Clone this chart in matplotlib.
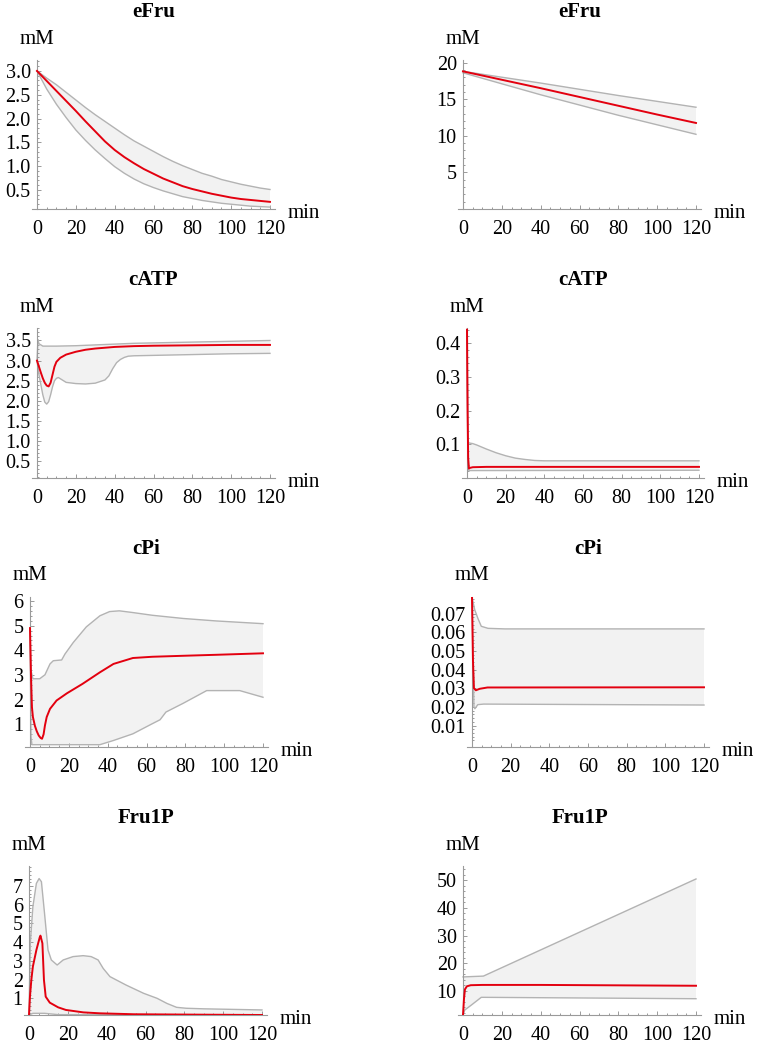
import numpy as np
import matplotlib
matplotlib.use("Agg")
import matplotlib.pyplot as plt
from matplotlib.ticker import FixedLocator, MultipleLocator, FormatStrFormatter

plt.rcParams['font.family'] = ['Liberation Serif', 'DejaVu Serif']

# ---- data ----
# eFru, left
efru1_t = [0, 5, 10, 15, 20, 25, 30, 35, 40, 45, 50, 55, 60, 65, 70, 75, 80, 85, 90, 95,
           100, 105, 110, 115, 120]
efru1_mean = [3.0, 2.79, 2.58, 2.37, 2.16, 1.94, 1.73, 1.52, 1.34, 1.19, 1.06, 0.94, 0.84,
              0.74, 0.66, 0.58, 0.52, 0.47, 0.42, 0.38, 0.34, 0.31, 0.29, 0.27, 0.25]
efru1_up = [3.0, 2.85, 2.71, 2.55, 2.39, 2.23, 2.08, 1.94, 1.8, 1.66, 1.53, 1.42, 1.31, 1.2,
            1.1, 1.01, 0.93, 0.85, 0.79, 0.72, 0.67, 0.62, 0.58, 0.54, 0.51]
efru1_lo = [3.0, 2.62, 2.3, 2.02, 1.76, 1.54, 1.34, 1.16, 0.99, 0.85, 0.73, 0.63, 0.55, 0.48,
            0.42, 0.36, 0.32, 0.28, 0.25, 0.22, 0.2, 0.18, 0.16, 0.15, 0.14]

# eFru, right
efru2_t = [0, 20, 40, 60, 80, 100, 120]
efru2_mean = [18.8, 17.65, 16.5, 15.3, 14.1, 12.9, 11.75]
efru2_up = [18.8, 18.0, 17.2, 16.35, 15.5, 14.7, 13.9]
efru2_lo = [18.6, 17.1, 15.6, 14.2, 12.8, 11.5, 10.2]

# cATP, left
catp1_mean_t = [0, 1, 2, 3, 4, 5, 6, 7, 8, 9, 10, 12, 15, 20, 25, 30, 40, 50, 60, 80, 100, 120]
catp1_mean = [3.0, 2.85, 2.7, 2.56, 2.45, 2.38, 2.36, 2.45, 2.65, 2.85, 2.97, 3.07, 3.15, 3.22,
              3.27, 3.3, 3.34, 3.36, 3.37, 3.38, 3.39, 3.39]
catp1_up_t = [0, 0.5, 1, 3, 10, 20, 30, 40, 50, 60, 80, 100, 120]
catp1_up = [3.0, 3.52, 3.42, 3.36, 3.36, 3.37, 3.39, 3.41, 3.43, 3.44, 3.46, 3.48, 3.5]
catp1_lo_t = [0, 1, 2, 3, 4, 5, 6, 7, 8, 9, 10, 11, 13, 15, 20, 25, 30, 35, 37, 39, 41, 43,
              45, 47, 50, 60, 80, 100, 120]
catp1_lo = [3.0, 2.65, 2.4, 2.15, 1.97, 1.92, 1.98, 2.15, 2.35, 2.5, 2.56, 2.58, 2.52, 2.46,
            2.43, 2.42, 2.44, 2.52, 2.62, 2.8, 2.95, 3.03, 3.08, 3.11, 3.12, 3.13, 3.15, 3.17, 3.18]

# cATP, right
catp2_mean_t = [0, 0.3, 0.6, 1, 1.5, 3, 10, 120]
catp2_mean = [0.44, 0.2, 0.06, 0.028, 0.03, 0.032, 0.033, 0.033]
catp2_up_t = [0, 0.5, 1, 3, 5, 10, 15, 20, 25, 30, 35, 40, 120]
catp2_up = [0.44, 0.11, 0.104, 0.102, 0.098, 0.086, 0.075, 0.066, 0.059, 0.055, 0.052, 0.051, 0.051]
catp2_lo_t = [0, 0.5, 1, 120]
catp2_lo = [0.44, 0.03, 0.022, 0.023]

# cPi, left
cpi1_mean_t = [0, 0.5, 1, 1.5, 2.5, 3.5, 4.5, 5.5, 6.2, 7, 7.7, 8.6, 10.3, 13.7, 19, 27, 36,
               43, 53, 63, 79, 96, 120]
cpi1_mean = [4.9, 3.0, 1.7, 1.3, 0.95, 0.72, 0.55, 0.45, 0.42, 0.6, 0.96, 1.3, 1.63, 1.97,
             2.26, 2.64, 3.11, 3.45, 3.69, 3.74, 3.78, 3.82, 3.88]
cpi1_up_t = [0, 0.5, 1.5, 5, 7.7, 10.3, 12, 16.3, 18, 22.3, 29, 36, 41, 46, 53, 63, 79, 96, 120]
cpi1_up = [4.9, 3.2, 2.85, 2.85, 3.01, 3.45, 3.58, 3.61, 3.85, 4.32, 4.95, 5.4, 5.57, 5.6,
           5.53, 5.42, 5.29, 5.19, 5.08]
cpi1_lo_t = [0, 0.5, 1, 36, 43, 53, 63, 67, 70, 79, 91, 108, 120]
cpi1_lo = [4.9, 0.5, 0.18, 0.18, 0.35, 0.62, 1.03, 1.19, 1.5, 1.86, 2.37, 2.37, 2.1]

# cPi, right
cpi2_mean_t = [0, 0.5, 1, 2, 4, 8, 120]
cpi2_mean = [0.0789, 0.045, 0.030, 0.0289, 0.0297, 0.0304, 0.0305]
cpi2_up_t = [0, 1.4, 3.1, 4.8, 8.3, 17, 120]
cpi2_up = [0.0789, 0.0721, 0.0673, 0.0632, 0.0621, 0.0618, 0.0618]
cpi2_lo_t = [0, 1, 1.5, 3, 6, 120]
cpi2_lo = [0.0789, 0.02, 0.019, 0.0212, 0.0215, 0.021]

# Fru1P, left
fru1p1_mean_t = [0, 0.5, 1.2, 2, 3.8, 5.5, 5.9, 6.9, 7.7, 8.6, 10.7, 15, 19, 28, 36.5, 54, 85, 120]
fru1p1_mean = [0.11, 1.1, 1.98, 2.7, 3.58, 4.25, 4.35, 3.94, 1.98, 1.09, 0.77, 0.52, 0.38,
               0.25, 0.2, 0.15, 0.13, 0.11]
fru1p1_up_t = [0, 0.7, 2, 3.8, 5.2, 6.4, 8, 9.8, 11.5, 14.5, 17.6, 22.7, 27.9, 32, 35.6, 38.2,
               41.7, 50, 59, 66, 71, 76, 81, 90, 120]
fru1p1_up = [0.11, 4.0, 5.9, 7.14, 7.4, 7.23, 5.54, 3.58, 3.05, 2.78, 3.05, 3.23, 3.28, 3.23,
             3.05, 2.6, 2.16, 1.71, 1.27, 1.0, 0.73, 0.52, 0.47, 0.44, 0.38]
fru1p1_lo_t = [0, 2, 8, 15, 120]
fru1p1_lo = [0.11, 0.2, 0.2, 0.13, 0.11]

# Fru1P, right
fru1p2_mean_t = [0, 0.5, 1, 2, 4, 10, 40, 120]
fru1p2_mean = [1.2, 7.0, 10.5, 11.6, 12.0, 12.1, 12.1, 11.8]
fru1p2_up_t = [0, 10.5, 120]
fru1p2_up = [15.0, 15.3, 50.5]
fru1p2_lo_t = [0, 0.9, 4.3, 9.4, 11, 120]
fru1p2_lo = [1.2, 3.0, 4.8, 7.6, 7.6, 7.1]

titles = ["eFru", "eFru", "cATP", "cATP", "cPi", "cPi", "Fru1P", "Fru1P"]

panels = [
    (efru1_t, efru1_mean, efru1_t, efru1_up, efru1_t, efru1_lo),
    (efru2_t, efru2_mean, efru2_t, efru2_up, efru2_t, efru2_lo),
    (catp1_mean_t, catp1_mean, catp1_up_t, catp1_up, catp1_lo_t, catp1_lo),
    (catp2_mean_t, catp2_mean, catp2_up_t, catp2_up, catp2_lo_t, catp2_lo),
    (cpi1_mean_t, cpi1_mean, cpi1_up_t, cpi1_up, cpi1_lo_t, cpi1_lo),
    (cpi2_mean_t, cpi2_mean, cpi2_up_t, cpi2_up, cpi2_lo_t, cpi2_lo),
    (fru1p1_mean_t, fru1p1_mean, fru1p1_up_t, fru1p1_up, fru1p1_lo_t, fru1p1_lo),
    (fru1p2_mean_t, fru1p2_mean, fru1p2_up_t, fru1p2_up, fru1p2_lo_t, fru1p2_lo),
]

# y ticks: (major ticks, minor step, format, ylim)
yticks = [
    ([0.5, 1.0, 1.5, 2.0, 2.5, 3.0], 0.1, '%.1f', (0.10, 3.23)),
    ([5, 10, 15, 20], 1, '%d', (0, 20.35)),
    ([0.5, 1.0, 1.5, 2.0, 2.5, 3.0, 3.5], 0.1, '%.1f', (0.085, 3.81)),
    ([0.1, 0.2, 0.3, 0.4], 0.02, '%.1f', (0.0, 0.445)),
    ([1, 2, 3, 4, 5, 6], 0.2, '%d', (0.086, 6.16)),
    ([0.01, 0.02, 0.03, 0.04, 0.05, 0.06, 0.07], 0.002, '%.2f', (-0.0015, 0.0789)),
    ([1, 2, 3, 4, 5, 6, 7], 0.2, '%d', (0.11, 8.07)),
    ([10, 20, 30, 40, 50], 2, '%d', (1.2, 55.2)),
]

# pixel layout: x of t=0, x of t=120, y of x-axis, y of top of y-axis
layout = [
    (37, 270, 209, 60), (463, 696, 209, 60),
    (37, 270, 478, 328), (467, 699, 478, 328),
    (30, 263, 747, 597), (472, 704, 747, 597),
    (29, 262, 1015, 866), (463, 696, 1015, 866),
]

W, H = 762, 1045
fig = plt.figure(figsize=(W / 100, H / 100), dpi=100)

axcol = '#9a9a9a'
bandcol = '#b3b3b3'
fillcol = '#f2f2f2'
redcol = '#e3000f'
fs_tick = 14.5
fs = 15

for i in range(8):
    x0, x120, yb, yt = layout[i]
    left, right = x0 - 5, x120 + 5
    ax = fig.add_axes([left / W, 1 - yb / H, (right - left) / W, (yb - yt) / H])
    ppm = (x120 - x0) / 120.0
    ax.set_xlim(-5 / ppm, 120 + 5 / ppm)
    major, minstep, fmt, ylim = yticks[i]
    ax.set_ylim(*ylim)

    tm, mean, tu, up, tl, lo = panels[i]
    ax.fill(np.concatenate([tu, tl[::-1]]), np.concatenate([up, lo[::-1]]),
            color=fillcol, lw=0, zorder=1)
    ax.plot(tu, up, color=bandcol, lw=1.0, zorder=2)
    ax.plot(tl, lo, color=bandcol, lw=1.0, zorder=2)
    ax.plot(tm, mean, color=redcol, lw=1.4, zorder=3, solid_joinstyle='round')

    for s in ['top', 'right']:
        ax.spines[s].set_visible(False)
    ax.spines['left'].set_position(('data', 0))
    for s in ['left', 'bottom']:
        ax.spines[s].set_color(axcol)
        ax.spines[s].set_linewidth(0.8)

    ax.xaxis.set_major_locator(FixedLocator([0, 20, 40, 60, 80, 100, 120]))
    ax.xaxis.set_minor_locator(MultipleLocator(5))
    ax.yaxis.set_major_locator(FixedLocator(major))
    mins = np.arange(minstep, ylim[1], minstep)
    ax.yaxis.set_minor_locator(FixedLocator(mins))
    ax.yaxis.set_major_formatter(FormatStrFormatter(fmt))
    ax.tick_params(which='both', direction='in', color=axcol, width=0.7, labelsize=fs_tick)
    ax.tick_params(which='major', length=3)
    ax.tick_params(which='minor', length=1.5)
    ax.tick_params(axis='x', which='major', pad=8)
    ax.tick_params(axis='y', which='major', pad=4.5)
    ax.patch.set_alpha(0)

    fig.text((x0 + x120) / 2 / W, 1 - (yt - 48) / H, titles[i], ha='center', va='center',
             fontsize=fs, fontweight='bold')
    fig.text(x0 / W, 1 - (yt - 21) / H, 'mM', ha='center', va='center', fontsize=fs)
    fig.text((x120 + 18) / W, 1 - (yb + 9) / H, 'min', ha='left', va='baseline', fontsize=fs)

fig.savefig('out.png', dpi=100)
